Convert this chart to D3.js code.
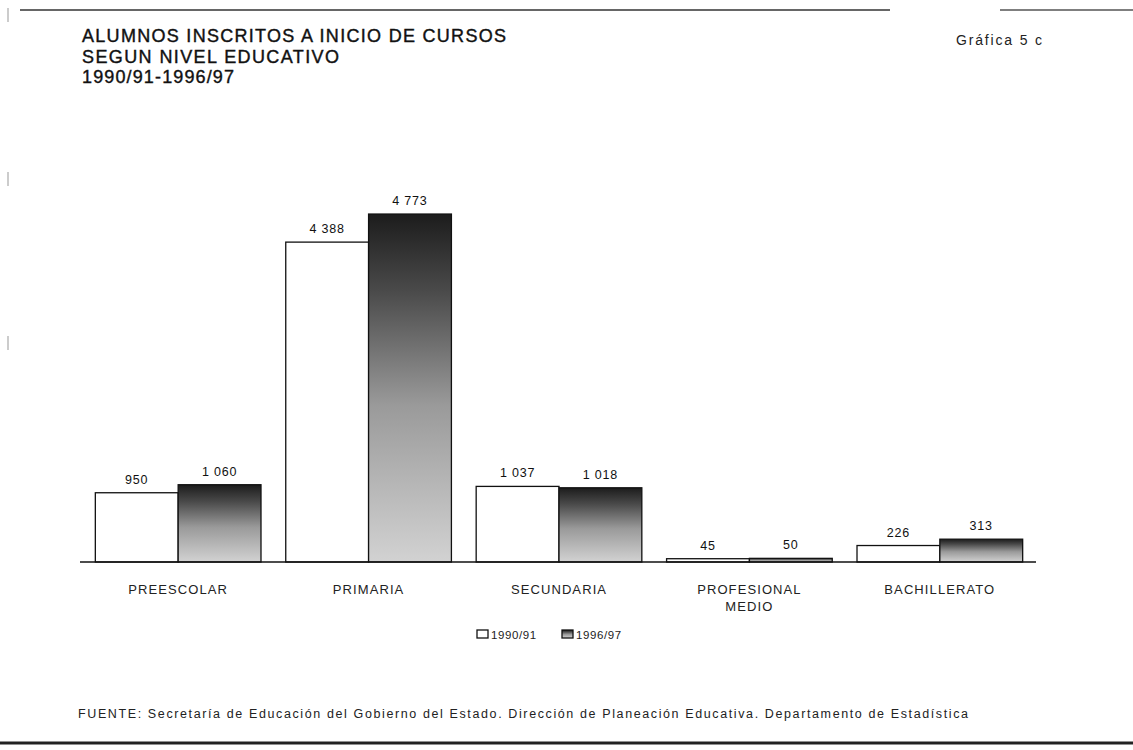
<!DOCTYPE html>
<html>
<head>
<meta charset="utf-8">
<script src="https://cdn.jsdelivr.net/npm/d3@7"></script>
<style>
  html, body { margin: 0; padding: 0; background: #fff; }
  svg { display: block; font-family: "Liberation Sans", Arial, sans-serif; }
</style>
</head>
<body>
<svg id="chart" width="1133" height="750"></svg>
<script>
// ---- data ----
const categories = ["PREESCOLAR", "PRIMARIA", "SECUNDARIA", "PROFESIONAL MEDIO", "BACHILLERATO"];
const categoryLines = [["PREESCOLAR"], ["PRIMARIA"], ["SECUNDARIA"], ["PROFESIONAL", "MEDIO"], ["BACHILLERATO"]];
const seriesNames = ["1990/91", "1996/97"];
const values1990 = [950, 4388, 1037, 45, 226];
const values1996 = [1060, 4773, 1018, 50, 313];
const titleLines = ["ALUMNOS INSCRITOS A INICIO DE CURSOS", "SEGUN NIVEL EDUCATIVO", "1990/91-1996/97"];
const chartId = "Gráfica 5 c";
const sourceText = "FUENTE: Secretaría de Educación del Gobierno del Estado. Dirección de Planeación Educativa. Departamento de Estadística";

// ---- build ----
const svg = d3.select("#chart");
const defs = svg.append("defs");
const grad = defs.append("linearGradient").attr("id", "g96")
  .attr("x1", 0).attr("y1", 0).attr("x2", 0).attr("y2", 1);
[[0, "#1c1c1c"], [0.22, "#4a4a4a"], [0.55, "#9a9a9a"], [1, "#d2d2d2"]].forEach(([o, c]) =>
  grad.append("stop").attr("offset", o).attr("stop-color", c));

const baseline = 562;
const x0 = d3.scaleBand().domain(categories).range([82, 1036]).paddingInner(0.13).paddingOuter(0.07);
const x1 = d3.scaleBand().domain(seriesNames).range([0, x0.bandwidth()]).padding(0);
const y = d3.scaleLinear().domain([0, 5000]).range([baseline, 197.5]);
const fmt = d3.formatLocale({decimal: ".", thousands: " ", grouping: [3], currency: ["", ""]}).format(",");

const rows = categories.map((c, i) => ({cat: c, vals: [values1990[i], values1996[i]]}));

// frame lines
svg.append("line").attr("x1", 20).attr("x2", 890).attr("y1", 10).attr("y2", 10)
  .attr("stroke", "#333").attr("stroke-width", 1.5);
svg.append("line").attr("x1", 1000).attr("x2", 1133).attr("y1", 10).attr("y2", 10)
  .attr("stroke", "#555").attr("stroke-width", 1.5);
svg.append("line").attr("x1", 0).attr("x2", 1133).attr("y1", 743).attr("y2", 743)
  .attr("stroke", "#222").attr("stroke-width", 3);
svg.append("line").attr("x1", 8).attr("x2", 8).attr("y1", 8).attr("y2", 500)
  .attr("stroke", "#999").attr("stroke-width", 1).attr("stroke-dasharray", "14 150");

// titles
const titleWidths = [424, 257, 152];
svg.append("g").selectAll("text").data(titleLines).join("text")
  .attr("x", 82).attr("y", (d, i) => 42 + i * 20.5)
  .attr("font-size", 18)
  .attr("textLength", (d, i) => titleWidths[i]).attr("lengthAdjust", "spacing")
  .attr("fill", "#111").attr("stroke", "#111").attr("stroke-width", 0.4).text(d => d);
svg.append("text").attr("x", 956).attr("y", 45).attr("font-size", 14)
  .attr("textLength", 86).attr("lengthAdjust", "spacing").attr("fill", "#222").text(chartId);

// bars
const g = svg.append("g");
const grp = g.selectAll("g.cat").data(rows).join("g").attr("class", "cat")
  .attr("transform", d => `translate(${x0(d.cat)},0)`);
grp.selectAll("rect").data(d => d.vals.map((v, k) => ({k, v}))).join("rect")
  .attr("x", d => x1(seriesNames[d.k]))
  .attr("y", d => y(d.v))
  .attr("width", x1.bandwidth())
  .attr("height", d => baseline - y(d.v))
  .attr("fill", d => d.k === 0 ? "#fff" : "url(#g96)")
  .attr("stroke", "#111").attr("stroke-width", 1.3);
grp.selectAll("text.val").data(d => d.vals.map((v, k) => ({k, v}))).join("text")
  .attr("class", "val")
  .attr("x", d => x1(seriesNames[d.k]) + x1.bandwidth() / 2)
  .attr("y", d => y(d.v) - 9)
  .attr("text-anchor", "middle").attr("font-size", 12.5).attr("letter-spacing", 0.8).attr("fill", "#111")
  .text(d => fmt(d.v));

// axis baseline
svg.append("line").attr("x1", 80).attr("x2", 1036).attr("y1", baseline).attr("y2", baseline)
  .attr("stroke", "#111").attr("stroke-width", 1.5);

// category labels
const labs = svg.append("g").selectAll("text").data(categories).join("text")
  .attr("x", d => x0(d) + x0.bandwidth() / 2)
  .attr("y", 594).attr("text-anchor", "middle").attr("font-size", 13)
  .attr("letter-spacing", 1.1).attr("fill", "#222");
labs.each(function(d, i) {
  d3.select(this).selectAll("tspan").data(categoryLines[i]).join("tspan")
    .attr("x", x0(d) + x0.bandwidth() / 2)
    .attr("dy", (t, j) => j === 0 ? 0 : 17).text(t => t);
});

// legend
const leg = svg.append("g");
const legX = [477, 562];
seriesNames.forEach((s, k) => {
  leg.append("rect").attr("x", legX[k]).attr("y", 630).attr("width", 11).attr("height", 8)
    .attr("fill", k === 0 ? "#fff" : "url(#g96)").attr("stroke", "#111").attr("stroke-width", 1.3);
  leg.append("text").attr("x", legX[k] + 14).attr("y", 639).attr("font-size", 11.5)
    .attr("letter-spacing", 0.6).attr("fill", "#222").text(s);
});

// source
svg.append("text").attr("x", 78).attr("y", 718).attr("font-size", 12.5)
  .attr("textLength", 890).attr("lengthAdjust", "spacing").attr("fill", "#222").text(sourceText);
</script>
</body>
</html>
